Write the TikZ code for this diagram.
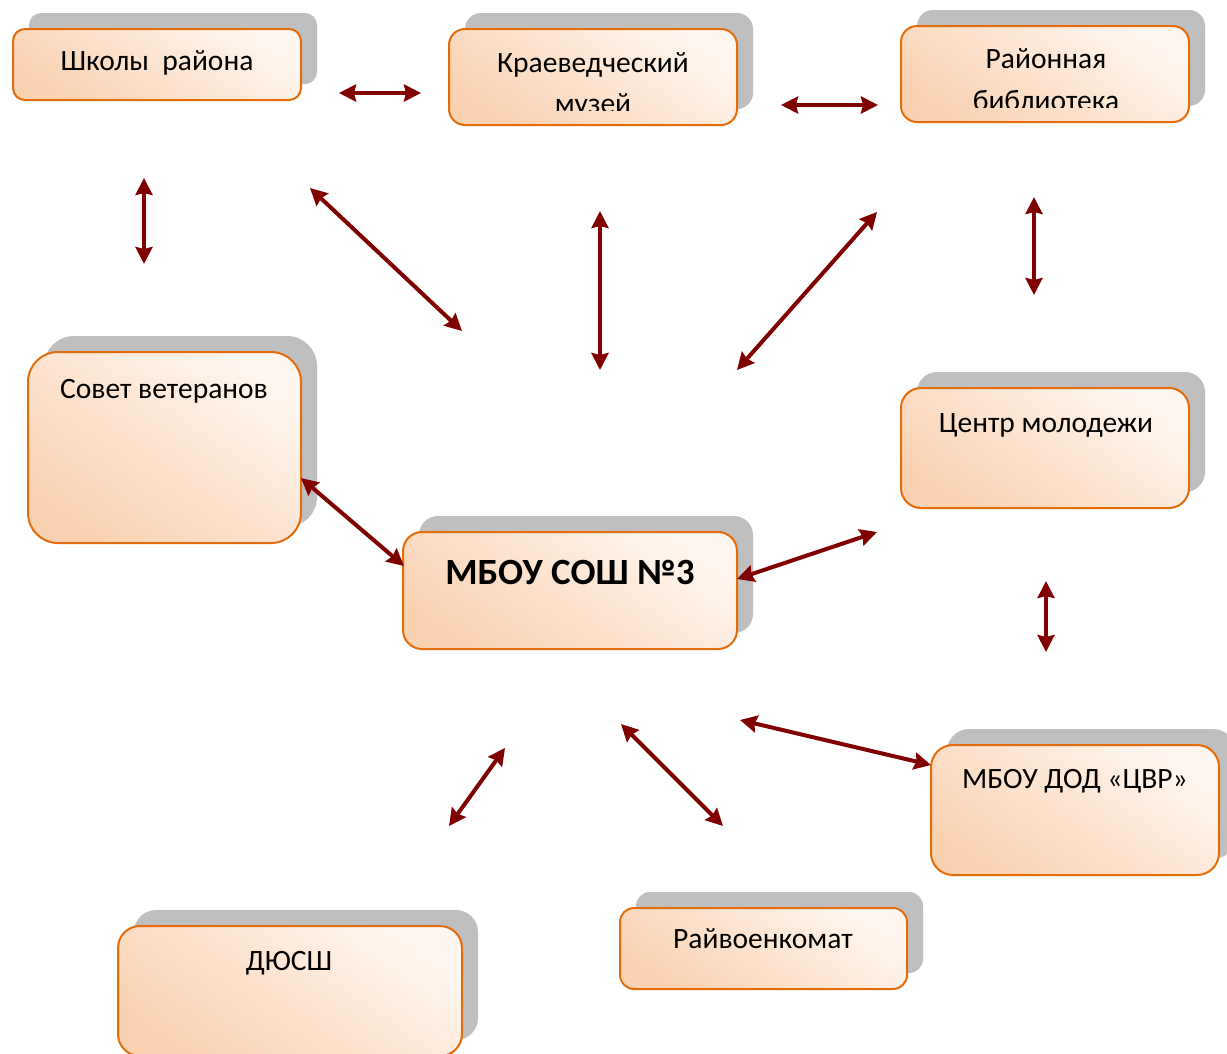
\documentclass[tikz,border=0pt]{standalone}
\usepackage{fontspec}
\setmainfont{Carlito}
\usetikzlibrary{arrows.meta}
\definecolor{peachdark}{RGB}{249,210,178}
\definecolor{peachlight}{RGB}{255,246,239}
\definecolor{boxorange}{RGB}{228,108,10}
\definecolor{shadowgray}{RGB}{191,191,191}
\definecolor{arrowred}{RGB}{128,0,0}
\tikzset{
  shadowbox/.style={fill=shadowgray, draw=none, inner sep=0pt},
  mainbox/.style={draw=boxorange, line width=2pt, top color=peachlight, bottom color=peachdark, shading angle=-35, inner sep=0pt},
  lbl/.style={font=\fontsize{29.5}{34}\selectfont, anchor=base, inner sep=0pt},
  biglbl/.style={font=\fontsize{37}{42}\selectfont\bfseries, anchor=base, inner sep=0pt},
  arr/.style={draw=arrowred, line width=4pt, {Stealth[length=17pt,width=17pt,inset=2pt]}-{Stealth[length=17pt,width=17pt,inset=2pt]}}
}
% \drawbox{name}{x1}{y1}{x2}{y2}{radius}
\newcommand\drawbox[6]{%
  \node[shadowbox, rounded corners=#6pt, minimum width={(#4-#2)*1pt}, minimum height={(#5-#3)*1pt}] (#1s) at ({(#2+#4)/2+16},{(#3+#5)/2-16}) {};
  \node[mainbox, rounded corners=#6pt, minimum width={(#4-#2)*1pt}, minimum height={(#5-#3)*1pt}] (#1) at ({(#2+#4)/2},{(#3+#5)/2}) {};
}
\begin{document}
\begin{tikzpicture}[x=1pt,y=-1pt]
\useasboundingbox (0,0) rectangle (1227,1053);
\clip (0,0) rectangle (1227,1053);
\fill[white] (0,0) rectangle (1227,1053);

\drawbox{sch}{13}{29}{301}{100}{12}
\drawbox{muz}{449}{29}{737}{125}{16}
\drawbox{bib}{901}{26}{1189}{122}{16}
\drawbox{sov}{28}{352}{301}{543}{30}
\drawbox{cen}{901}{388}{1189}{508}{20}
\drawbox{mbou}{403}{532}{737}{649}{19}
\drawbox{cvr}{931}{745}{1219}{875}{22}
\drawbox{dyu}{118}{926}{462}{1056}{22}
\drawbox{ray}{620}{908}{907}{989}{14}

\node[lbl] (tsch) at (157,70) {Школы\ \ района};
\node[lbl] (tmuz1) at (593,72) {Краеведческий};
\begin{scope}
  \clip (449,29) rectangle (737,110);
  \node[lbl] (tmuz2) at (593,113) {музей};
\end{scope}
\node[lbl] (tbib1) at (1046,68) {Районная};
\begin{scope}
  \clip (901,26) rectangle (1189,107);
  \node[lbl] (tbib2) at (1046,110) {библиотека};
\end{scope}
\node[lbl] (tsov) at (164,398) {Совет ветеранов};
\node[lbl] (tcen) at (1046,432) {Центр молодежи};
\node[biglbl] (tmbou) at (570,584) {МБОУ СОШ №3};
\node[lbl] (tcvr) at (1075,788) {МБОУ ДОД «ЦВР»};
\node[lbl] (tdyu) at (289,970) {ДЮСШ};
\node[lbl] (tray) at (763,948) {Райвоенкомат};

% arrow end points
\coordinate (a1) at (339,93);   \coordinate (a2) at (421,93);
\coordinate (b1) at (781,105);  \coordinate (b2) at (878,105);
\coordinate (c1) at (144,178);  \coordinate (c2) at (144,264);
\coordinate (d1) at (310,188);  \coordinate (d2) at (462,331);
\coordinate (e1) at (600,211);  \coordinate (e2) at (600,370);
\coordinate (f1) at (877,212);  \coordinate (f2) at (737,370);
\coordinate (g1) at (1034,197); \coordinate (g2) at (1034,295);
\coordinate (h1) at (301,478);  \coordinate (h2) at (404,566);
\coordinate (i1) at (737,579);  \coordinate (i2) at (877,532);
\coordinate (j1) at (1046,581); \coordinate (j2) at (1046,652);
\coordinate (k1) at (740,720);  \coordinate (k2) at (931,765);
\coordinate (l1) at (505,748);  \coordinate (l2) at (449,826);
\coordinate (m1) at (621,724);  \coordinate (m2) at (723,826);

\draw[arr] (a1) -- (a2);
\draw[arr] (b1) -- (b2);
\draw[arr] (c1) -- (c2);
\draw[arr] (d1) -- (d2);
\draw[arr] (e1) -- (e2);
\draw[arr] (f1) -- (f2);
\draw[arr] (g1) -- (g2);
\draw[arr] (h1) -- (h2);
\draw[arr] (i1) -- (i2);
\draw[arr] (j1) -- (j2);
\draw[arr] (k1) -- (k2);
\draw[arr] (l1) -- (l2);
\draw[arr] (m1) -- (m2);
\end{tikzpicture}
\end{document}
